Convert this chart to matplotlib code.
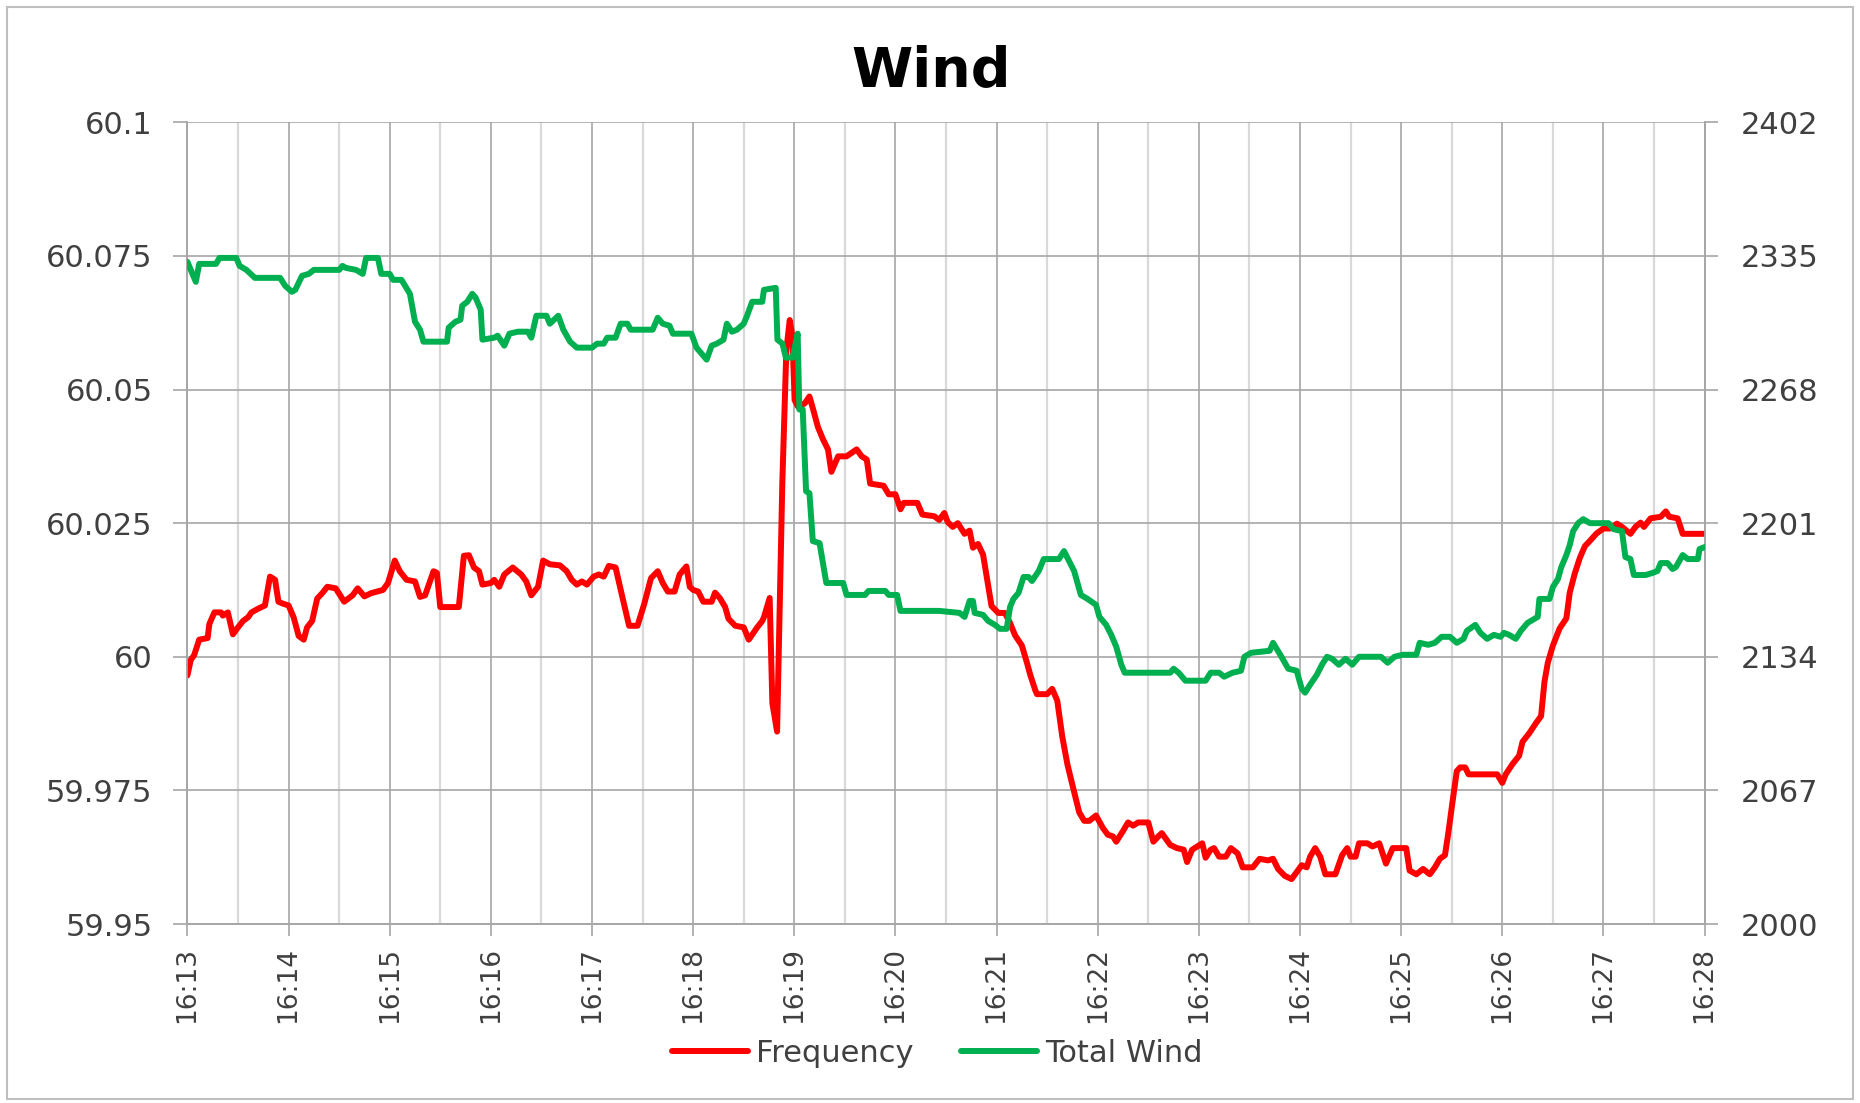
import matplotlib
matplotlib.use("Agg")
import matplotlib.pyplot as plt
from matplotlib.patches import Rectangle

# ---------------- data (seconds after 16:13:00) ----------------
freq_seconds = [0, 2, 4, 7, 12, 13, 16, 20, 21, 24, 27, 30, 33, 36, 38, 42, 46, 49, 52, 54,
                57, 60, 63, 66, 69, 71, 74, 77, 80, 83, 88, 93, 98, 101, 105, 109, 116, 119, 123, 126,
                130, 135, 138, 141, 146, 148, 150, 161, 164, 167, 170, 173, 175, 180, 182, 185, 188, 193, 198, 201,
                204, 208, 211, 215, 221, 225, 228, 231, 234, 237, 241, 244, 247, 250, 254, 258, 262, 267, 271, 275,
                279, 282, 285, 289, 292, 296, 298, 300, 303, 306, 311, 313, 316, 319, 321, 325, 330, 333, 338, 341,
                342, 345.4, 347, 349.8, 352.9, 355.3, 357.3, 358.9, 360.2, 362.2, 366.2, 369, 371, 374, 377, 380, 382, 386, 391, 397,
                400, 403, 405, 413, 416, 420, 423, 425, 433, 436, 443, 446, 449, 451, 454, 457, 461, 464, 466, 469,
                472, 475, 477, 481, 485, 488, 491, 495, 498, 500, 503, 504, 510, 513, 516, 519, 522, 525, 529, 532,
                535, 539, 543, 546, 549, 551, 555, 558, 561, 564, 570, 573, 576, 578, 583, 587, 591, 593, 596, 599,
                602, 604, 607, 609, 612, 616, 619, 623, 626, 632, 636, 641, 644, 647, 651, 655, 658, 661, 664, 666,
                669, 672, 675, 681, 685, 688, 690, 693, 695, 700, 703, 707, 711, 715, 723, 725, 729, 733, 737, 740,
                743, 746, 748, 751, 753, 755, 758, 760, 777, 780, 782, 786, 790, 792, 796, 800, 803, 805, 807, 810,
                814, 818, 820, 823, 826, 829, 832, 836, 840, 844, 848, 851, 856, 859, 862, 864, 868, 874, 877, 879,
                884, 887, 900]
freq_values = [59.9965, 59.9994, 60.0003, 60.0032, 60.0035, 60.0061, 60.0083, 60.0083, 60.0077, 60.0083,
               60.0042, 60.0055, 60.0067, 60.0074, 60.0083, 60.0090, 60.0096, 60.0150, 60.0144, 60.0103,
               60.0099, 60.0096, 60.0074, 60.0039, 60.0032, 60.0055, 60.0067, 60.0109, 60.0119, 60.0131,
               60.0128, 60.0103, 60.0115, 60.0128, 60.0113, 60.0119, 60.0125, 60.0138, 60.0180, 60.0160,
               60.0144, 60.0141, 60.0112, 60.0115, 60.0160, 60.0157, 60.0093, 60.0093, 60.0189, 60.0190,
               60.0167, 60.0160, 60.0135, 60.0138, 60.0144, 60.0131, 60.0154, 60.0167, 60.0154, 60.0141,
               60.0115, 60.0131, 60.0180, 60.0173, 60.0171, 60.0160, 60.0144, 60.0135, 60.0141, 60.0135,
               60.0150, 60.0154, 60.0150, 60.0170, 60.0167, 60.0112, 60.0058, 60.0058, 60.0099, 60.0147,
               60.0160, 60.0138, 60.0122, 60.0122, 60.0154, 60.0169, 60.0131, 60.0125, 60.0122, 60.0103,
               60.0103, 60.0120, 60.0109, 60.0093, 60.0071, 60.0058, 60.0055, 60.0032, 60.0055, 60.0067,
               60.0074, 60.0110, 59.9913, 59.9860, 60.0325, 60.0574, 60.0630, 60.0599, 60.0480, 60.0468,
               60.0474, 60.0487, 60.0465, 60.0430, 60.0407, 60.0388, 60.0346, 60.0375, 60.0375, 60.0388,
               60.0375, 60.0369, 60.0324, 60.0320, 60.0304, 60.0304, 60.0276, 60.0288, 60.0288, 60.0266,
               60.0263, 60.0256, 60.0269, 60.0252, 60.0243, 60.0250, 60.0230, 60.0236, 60.0204, 60.0211,
               60.0191, 60.0133, 60.0095, 60.0082, 60.0082, 60.0063, 60.0040, 60.0021, 59.9989, 59.9966,
               59.9937, 59.9930, 59.9930, 59.9940, 59.9918, 59.9850, 59.9799, 59.9760, 59.9709, 59.9693,
               59.9693, 59.9703, 59.9680, 59.9667, 59.9664, 59.9654, 59.9674, 59.9690, 59.9684, 59.9690,
               59.9690, 59.9654, 59.9664, 59.9670, 59.9648, 59.9642, 59.9639, 59.9616, 59.9639, 59.9645,
               59.9651, 59.9624, 59.9639, 59.9642, 59.9626, 59.9626, 59.9642, 59.9632, 59.9606, 59.9606,
               59.9622, 59.9619, 59.9622, 59.9603, 59.9590, 59.9584, 59.9597, 59.9610, 59.9606, 59.9626,
               59.9642, 59.9626, 59.9593, 59.9593, 59.9629, 59.9642, 59.9626, 59.9626, 59.9651, 59.9651,
               59.9645, 59.9651, 59.9613, 59.9642, 59.9642, 59.9600, 59.9593, 59.9603, 59.9593, 59.9606,
               59.9622, 59.9629, 59.9671, 59.9741, 59.9786, 59.9793, 59.9793, 59.9780, 59.9780, 59.9764,
               59.9780, 59.9799, 59.9815, 59.9841, 59.9857, 59.9876, 59.9889, 59.9953, 59.9989, 60.0021,
               60.0053, 60.0072, 60.0120, 60.0156, 60.0185, 60.0207, 60.0217, 60.0231, 60.0240, 60.0240,
               60.0249, 60.0243, 60.0230, 60.0243, 60.0251, 60.0243, 60.0259, 60.0262, 60.0272, 60.0262,
               60.0259, 60.0230, 60.0230]

wind_seconds = [0, 3, 5, 7, 17, 19, 29, 31, 35, 40, 55, 58, 62, 64, 68, 72, 75, 90, 92, 94,
                100, 104, 106, 113, 115, 120, 122, 127, 132, 135, 138, 140, 154, 155, 159, 162, 163, 166, 169, 171,
                174, 175, 182, 184, 188, 191, 196, 202, 204, 207, 213, 215, 220, 223, 227, 231, 240, 243, 247, 249,
                254, 257, 261, 263, 276, 279, 282, 286, 288, 299, 302, 308, 311, 314, 318, 320, 323, 326, 330, 332,
                335, 341, 342, 349, 350, 353, 355, 359, 362, 363, 365, 367, 369, 371, 375, 379, 389, 391, 402, 404,
                414, 416, 421, 423, 446, 458, 461, 464, 466, 467, 472, 475, 479, 482, 486, 488, 490, 493, 496, 499,
                501, 505, 508, 517, 520, 523, 526, 530, 534, 539, 541, 545, 548, 551, 554, 556, 583, 585, 588, 592,
                604, 607, 612, 615, 620, 625, 627, 631, 642, 644, 649, 653, 658, 661, 663, 666, 670, 673, 676, 679,
                683, 687, 691, 695, 708, 712, 716, 721, 729, 731, 736, 740, 744, 749, 753, 757, 759, 764, 767, 771,
                775, 779, 781, 784, 788, 791, 795, 799, 801, 802, 808, 810, 813, 815, 818, 820, 822, 825, 828, 832,
                843, 846, 851, 853, 856, 858, 865, 869, 872, 874, 878, 881, 883, 887, 890, 896, 897, 900]
wind_values = [2332, 2326, 2322, 2331, 2331, 2334, 2334, 2330, 2328, 2324, 2324, 2320, 2317, 2318, 2325, 2326,
               2328, 2328, 2330, 2329, 2328, 2326, 2334, 2334, 2326, 2326, 2323, 2323, 2316, 2302, 2298, 2292,
               2292, 2299, 2302, 2303, 2310, 2312, 2316, 2314, 2308, 2293, 2294, 2295, 2290, 2296, 2297, 2297,
               2294, 2305, 2305, 2301, 2305, 2298, 2292, 2289, 2289, 2291, 2291, 2294, 2294, 2301, 2301, 2298,
               2298, 2304, 2301, 2300, 2296, 2296, 2289, 2283, 2290, 2291, 2293, 2301, 2297, 2298, 2301, 2305,
               2312, 2312, 2318, 2319, 2293, 2291, 2284, 2284, 2296, 2258, 2258, 2217, 2216, 2192, 2191, 2171,
               2171, 2165, 2165, 2167, 2167, 2165, 2165, 2157, 2157, 2156, 2154, 2162, 2162, 2156, 2155, 2152,
               2150, 2148, 2148, 2159, 2163, 2166, 2174, 2174, 2172, 2177, 2183, 2183, 2187, 2182, 2177, 2165,
               2163, 2160, 2154, 2150, 2145, 2139, 2130, 2126, 2126, 2128, 2126, 2122, 2122, 2126, 2126, 2124,
               2126, 2127, 2134, 2136, 2137, 2141, 2134, 2128, 2127, 2118, 2116, 2120, 2125, 2130, 2134, 2133,
               2130, 2133, 2130, 2134, 2134, 2131, 2134, 2135, 2135, 2141, 2140, 2141, 2144, 2144, 2141, 2143,
               2147, 2150, 2146, 2143, 2145, 2144, 2146, 2145, 2143, 2147, 2151, 2153, 2154, 2163, 2163, 2169,
               2173, 2179, 2185, 2190, 2197, 2201, 2203, 2201, 2201, 2198, 2197, 2184, 2183, 2175, 2175, 2176,
               2177, 2181, 2181, 2178, 2179, 2185, 2183, 2183, 2188, 2189]

minute_ticks = list(range(13, 29))
time_labels = ["16:%02d" % m for m in minute_ticks]
freq_ticks = [59.95, 59.975, 60.0, 60.025, 60.05, 60.075, 60.1]
freq_labels = ["59.95", "59.975", "60", "60.025", "60.05", "60.075", "60.1"]
wind_ticks = [2000, 2067, 2134, 2201, 2268, 2335, 2402]

# ---------------- figure ----------------
W, H, DPI = 1860, 1103, 100
fig = plt.figure(figsize=(W / DPI, H / DPI), dpi=DPI)
plt.rcParams['font.family'] = ['DejaVu Sans']

left, right, top, bottom = 187.4, 1704.6, 122.3, 924.0
ax = fig.add_axes([left / W, 1 - bottom / H, (right - left) / W, (bottom - top) / H])
ax2 = ax.twinx()

RED = '#FF0000'
GREEN = '#00B050'
GRID_MAJ = '#a6a6a6'
GRID_MIN = '#d9d9d9'
TXT = '#404040'
LW = 4.3

fx = [13 + s / 60.0 for s in freq_seconds]
wx = [13 + s / 60.0 for s in wind_seconds]

l1, = ax.plot(fx, freq_values, color=RED, lw=LW, solid_joinstyle='round', solid_capstyle='round',
              label='Frequency', zorder=3)
l2, = ax2.plot(wx, wind_values, color=GREEN, lw=LW, solid_joinstyle='round', solid_capstyle='round',
               label='Total Wind', zorder=3)

ax.set_xlim(13, 28)
ax.set_ylim(59.95, 60.1)
ax2.set_ylim(2000, 2402)

ax.set_xticks(minute_ticks)
ax.set_xticklabels(time_labels, rotation=90, fontsize=19, color=TXT)
ax.set_xticks([m + 0.5 for m in minute_ticks[:-1]], minor=True)
ax.set_yticks(freq_ticks)
ax.set_yticklabels(freq_labels, fontsize=22, color=TXT)
ax2.set_yticks(wind_ticks)
ax2.set_yticklabels([str(v) for v in wind_ticks], fontsize=22, color=TXT)

ax.grid(True, which='major', axis='both', color=GRID_MAJ, lw=1.2, zorder=0)
ax.grid(True, which='minor', axis='x', color=GRID_MIN, lw=1.6, zorder=0)
ax.set_axisbelow(True)

ax.tick_params(axis='x', which='major', direction='out', length=8.4, width=1.2, color=GRID_MAJ, pad=8)
ax.tick_params(axis='x', which='minor', length=0)
ax.tick_params(axis='y', direction='out', length=10, width=1.2, color=GRID_MAJ, pad=15)
ax2.tick_params(axis='y', direction='out', length=9.4, width=1.2, color=GRID_MAJ, pad=16.5)

for a in (ax, ax2):
    a.spines['top'].set_visible(False)
    for s in ('left', 'right', 'bottom'):
        a.spines[s].set_color(GRID_MAJ)
        a.spines[s].set_linewidth(1.2)

fig.text(931 / W, 1 - 71 / H, 'Wind', ha='center', va='center', fontsize=40,
         fontweight='bold', color='black')

leg = fig.legend(handles=[l1, l2], loc='center', bbox_to_anchor=(937 / W, 1 - 1053 / H), ncol=2,
                 frameon=False, fontsize=22, handlelength=2.5, handletextpad=0.25,
                 columnspacing=1.55, borderpad=0, borderaxespad=0)
for t in leg.get_texts():
    t.set_color(TXT)

fig.patches.append(Rectangle((7 / W, 1 - 1099 / H), 1846 / W, 1092 / H, transform=fig.transFigure,
                             fill=False, edgecolor='#bfbfbf', lw=1.5))

fig.savefig('out.png', dpi=DPI)
